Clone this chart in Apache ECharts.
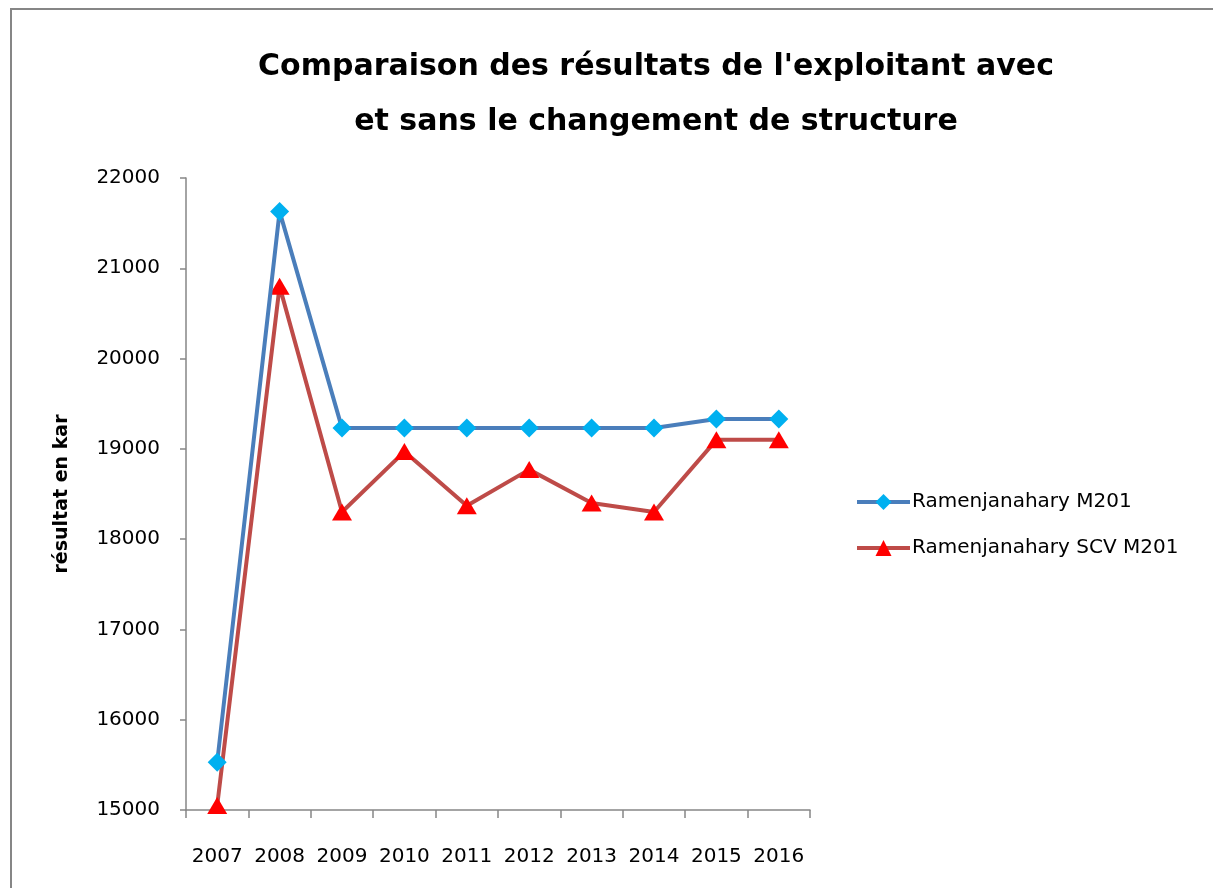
<!DOCTYPE html>
<html>
<head>
<meta charset="utf-8">
<script src="https://cdn.jsdelivr.net/npm/echarts@6/dist/echarts.min.js"></script>
<style>html,body{margin:0;padding:0;background:#fff;overflow:hidden}#c{width:1213px;height:888px}</style>
</head>
<body>
<div id="c"></div>
<script>
const categories = ['2007','2008','2009','2010','2011','2012','2013','2014','2015','2016'];
const seriesNames = ['Ramenjanahary M201', 'Ramenjanahary SCV M201'];
const valuesM201 = [15530, 21630, 19230, 19230, 19230, 19230, 19230, 19230, 19330, 19330];
const valuesSCV = [15050, 20800, 18300, 18970, 18370, 18770, 18400, 18300, 19100, 19100];
const yTicks = {min: 15000, max: 22000, interval: 1000};
const titleText = "Comparaison des résultats de l'exploitant avec\net sans le changement de structure";
const yName = 'résultat en kar';

const FONT = 'DejaVu Sans';
const chart = echarts.init(document.getElementById('c'));
chart.setOption({
  backgroundColor: '#fff',
  animation: false,
  graphic: [
    {type: 'line', shape: {x1: 11, y1: 8, x2: 11, y2: 900}, style: {stroke: '#868686', lineWidth: 2}},
    {type: 'line', shape: {x1: 10, y1: 9, x2: 1240, y2: 9}, style: {stroke: '#868686', lineWidth: 2}}
  ],
  title: {
    text: titleText,
    left: 651, top: 35, textAlign: 'center',
    textStyle: {fontFamily: FONT, fontWeight: 'bold', fontSize: 30, lineHeight: 55, color: '#000'}
  },
  legend: {
    orient: 'vertical', left: 850, top: 487,
    itemWidth: 53, itemHeight: 20, itemGap: 26,
    data: seriesNames,
    lineStyle: {width: 4},
    textStyle: {fontFamily: FONT, fontSize: 20, color: '#000', padding: [0,0,0,-3]}
  },
  grid: {left: 186, right: 403, top: 178, bottom: 78, containLabel: false},
  xAxis: {
    type: 'category', data: categories, boundaryGap: true,
    axisLine: {lineStyle: {color: '#868686', width: 1.5}},
    axisTick: {show: true, length: 8, interval: 0, lineStyle: {color: '#868686', width: 1.5}},
    axisLabel: {fontFamily: FONT, fontSize: 20, color: '#000', margin: 37, interval: 0},
    splitLine: {show: false}
  },
  yAxis: {
    type: 'value', min: yTicks.min, max: yTicks.max, interval: yTicks.interval,
    name: yName, nameLocation: 'middle', nameGap: 114, nameRotate: 90,
    nameTextStyle: {fontFamily: FONT, fontWeight: 'bold', fontSize: 19, color: '#000'},
    axisLine: {show: true, lineStyle: {color: '#868686', width: 1.5}},
    axisTick: {show: true, length: 6, lineStyle: {color: '#868686', width: 1.5}},
    axisLabel: {fontFamily: FONT, fontSize: 20, color: '#000', margin: 26, formatter: v => String(v)},
    splitLine: {show: false}
  },
  series: [
    {
      name: seriesNames[0], type: 'line', data: valuesM201,
      symbol: 'diamond', symbolSize: [19, 19],
      lineStyle: {color: '#4A7EBB', width: 4},
      itemStyle: {color: '#00B0F0'},
      z: 3
    },
    {
      name: seriesNames[1], type: 'line', data: valuesSCV,
      symbol: 'triangle', symbolSize: [20, 17],
      lineStyle: {color: '#BE4B48', width: 4},
      itemStyle: {color: '#FF0000'},
      z: 2
    }
  ]
});
</script>
</body>
</html>
